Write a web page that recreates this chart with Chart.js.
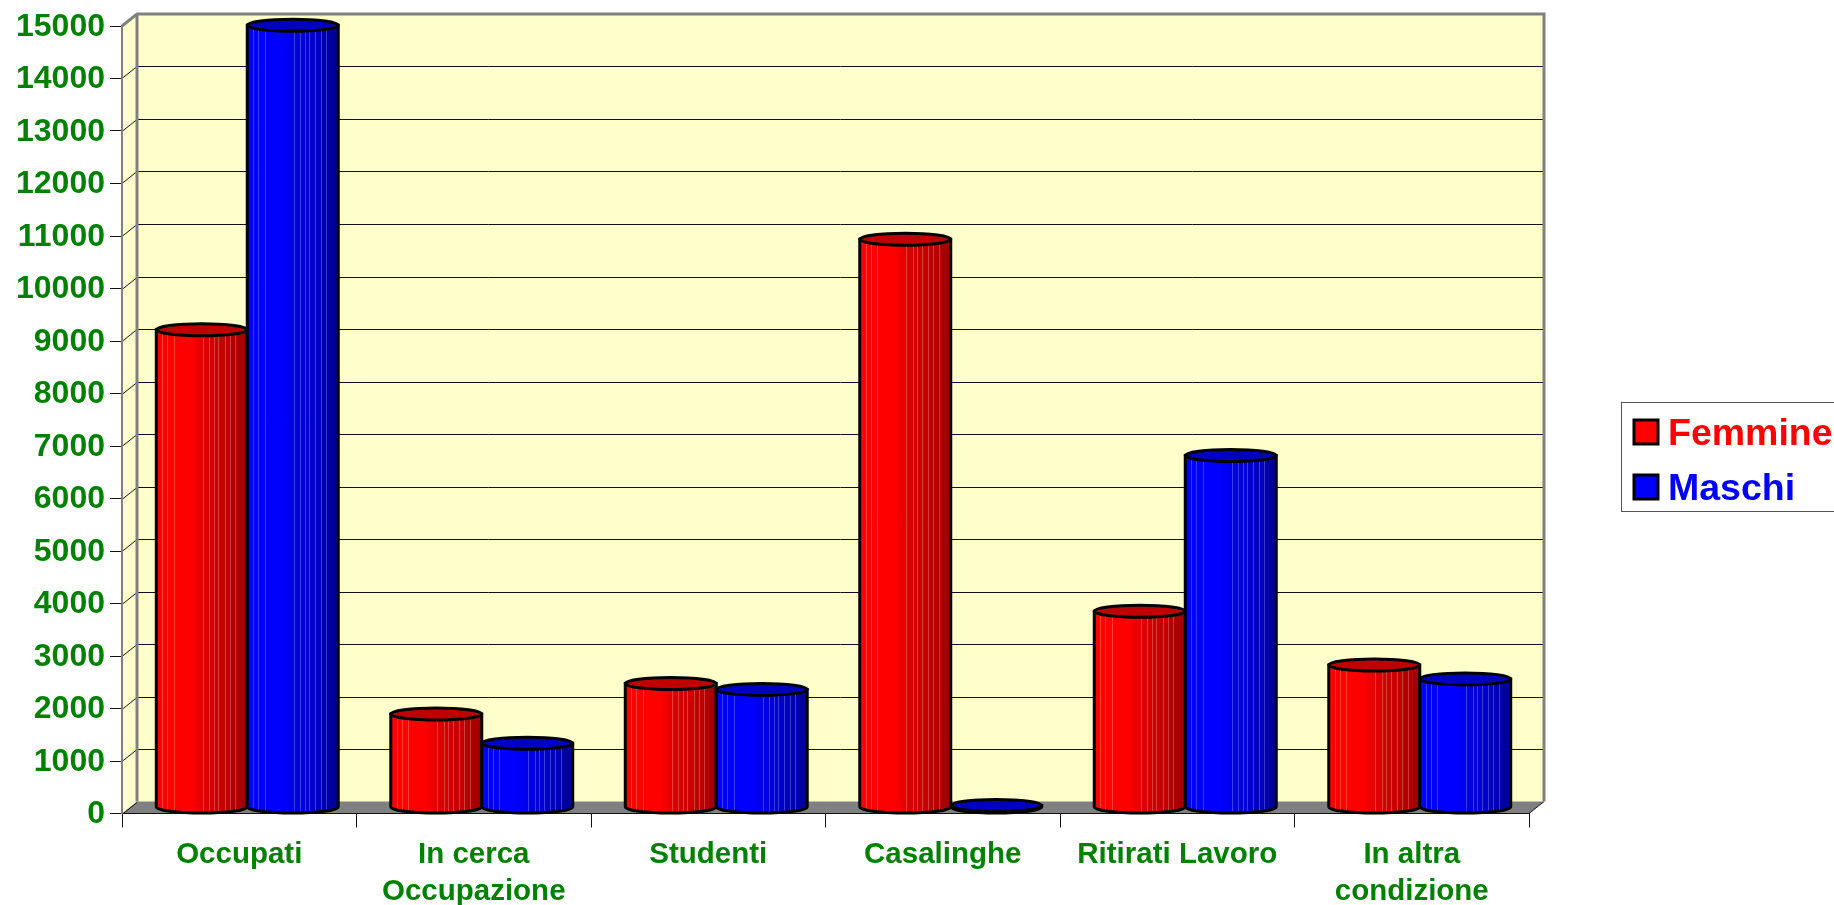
<!DOCTYPE html>
<html>
<head>
<meta charset="utf-8">
<title>Femmine e Maschi per condizione</title>
<script src="https://cdn.jsdelivr.net/npm/chart.js@4"></script>
<style>
  html, body { margin: 0; padding: 0; background: #fff; overflow: hidden; }
  canvas { display: block; }
</style>
</head>
<body>
<canvas id="chart" width="1834" height="905"></canvas>
<script>
const categories = ['Occupati', ['In cerca', 'Occupazione'], 'Studenti', 'Casalinghe', 'Ritirati Lavoro', ['In altra', 'condizione']];
const seriesNames = ['Femmine', 'Maschi'];
const femmine = [9100, 1780, 2360, 10825, 3740, 2716];
const maschi = [14900, 1223, 2250, 40, 6705, 2450];

const FONT = '"Liberation Sans", Arial, sans-serif';
const GREEN = '#008000';
const SERIES_COLOR = ['#ff0000', '#0000ff'];
const CAP_COLOR = ['#c00000', '#0000c0'];
const SHADE_1 = ['#d80000', '#0000e0'];
const SHADE_2 = ['#c40000', '#0000c8'];
const SHADE_3 = ['#9c0000', '#000090'];
const STREAK_COLOR = ['rgba(255,170,170,0.35)', 'rgba(170,170,255,0.35)'];
const STREAKS = [0.065, 0.12, 0.19, 0.51, 0.58, 0.63, 0.68, 0.75, 0.81, 0.87];

// how far the back wall sits from the front plane
const WALL_DX = 15;
const WALL_DY = -12;
// cylinders stand halfway between front and back
const BAR_DX = 8;
const BAR_DY = -6;
const CAP_RY = 6;

const wallPlugin = {
  id: 'wall',
  beforeDraw(chart) {
    const { ctx, chartArea: a, scales } = chart;
    const L = a.left, R = a.right, T = a.top, B = a.bottom;

    ctx.save();
    ctx.fillStyle = '#ffffcc';
    ctx.fillRect(L + WALL_DX, T + WALL_DY, R - L, B - T);
    ctx.beginPath();
    ctx.moveTo(L, T);
    ctx.lineTo(L + WALL_DX, T + WALL_DY);
    ctx.lineTo(L + WALL_DX, B + WALL_DY);
    ctx.lineTo(L, B);
    ctx.closePath();
    ctx.fill();

    // floor
    ctx.fillStyle = '#808080';
    ctx.beginPath();
    ctx.moveTo(L, B);
    ctx.lineTo(L + WALL_DX, B + WALL_DY);
    ctx.lineTo(R + WALL_DX, B + WALL_DY);
    ctx.lineTo(R, B);
    ctx.closePath();
    ctx.fill();

    // grid lines on the back wall and their diagonals on the side wall
    ctx.strokeStyle = '#111';
    ctx.lineWidth = 1;
    scales.y.ticks.forEach(t => {
      const y = Math.round(scales.y.getPixelForValue(t.value)) + 0.5;
      ctx.beginPath();
      ctx.moveTo(L, y);
      ctx.lineTo(L + WALL_DX, y + WALL_DY);
      if (t.value > 0) ctx.lineTo(R + WALL_DX, y + WALL_DY);
      ctx.stroke();
    });
    ctx.beginPath();
    ctx.moveTo(R, B);
    ctx.lineTo(R + WALL_DX, B + WALL_DY);
    ctx.stroke();

    // wall frame
    ctx.strokeStyle = '#808080';
    ctx.lineWidth = 3;
    ctx.beginPath();
    ctx.moveTo(L, T);
    ctx.lineTo(L + WALL_DX, T + WALL_DY);
    ctx.lineTo(R + WALL_DX, T + WALL_DY);
    ctx.lineTo(R + WALL_DX, B + WALL_DY);
    ctx.moveTo(L + WALL_DX, T + WALL_DY);
    ctx.lineTo(L + WALL_DX, B + WALL_DY);
    ctx.stroke();
    ctx.restore();
  }
};

function drawCylinder(ctx, bar, s) {
  const x0 = bar.x - bar.width / 2 + BAR_DX;
  const x1 = bar.x + bar.width / 2 + BAR_DX;
  const cx = (x0 + x1) / 2;
  const rx = bar.width / 2;
  const top = bar.y + BAR_DY;
  const bottom = bar.base + BAR_DY;

  const grad = ctx.createLinearGradient(x0, 0, x1, 0);
  grad.addColorStop(0, SERIES_COLOR[s]);
  grad.addColorStop(0.38, SERIES_COLOR[s]);
  grad.addColorStop(0.55, SHADE_1[s]);
  grad.addColorStop(0.75, SHADE_2[s]);
  grad.addColorStop(1, SHADE_3[s]);

  const body = () => {
    ctx.beginPath();
    ctx.moveTo(x0, top);
    ctx.lineTo(x0, bottom);
    ctx.ellipse(cx, bottom, rx, CAP_RY, 0, Math.PI, 0, true);
    ctx.lineTo(x1, top);
    ctx.closePath();
  };

  ctx.save();
  body();
  ctx.fillStyle = grad;
  ctx.fill();
  ctx.save();
  ctx.clip();
  ctx.strokeStyle = STREAK_COLOR[s];
  ctx.lineWidth = 1;
  STREAKS.forEach(f => {
    const x = Math.round(x0 + f * bar.width) + 0.5;
    ctx.beginPath();
    ctx.moveTo(x, top);
    ctx.lineTo(x, bottom + CAP_RY);
    ctx.stroke();
  });
  ctx.restore();
  body();
  ctx.strokeStyle = '#000';
  ctx.lineWidth = 3;
  ctx.stroke();

  ctx.beginPath();
  ctx.ellipse(cx, top, rx, CAP_RY, 0, 0, Math.PI * 2);
  ctx.fillStyle = CAP_COLOR[s];
  ctx.fill();
  ctx.stroke();
  ctx.restore();
}

const cylinderPlugin = {
  id: 'cylinders',
  // replaces the flat rectangles, the bars still come from the bar controller
  beforeDatasetsDraw(chart) {
    chart.data.datasets.forEach((ds, s) => {
      chart.getDatasetMeta(s).data.forEach(bar => drawCylinder(chart.ctx, bar, s));
    });
    return false;
  }
};

const legendBoxPlugin = {
  id: 'legendBox',
  afterDraw(chart) {
    const ctx = chart.ctx;
    ctx.save();
    ctx.fillStyle = '#fff';
    ctx.strokeStyle = '#555';
    ctx.lineWidth = 1;
    ctx.fillRect(1622, 403, 230, 109);
    ctx.strokeRect(1621.5, 402.5, 230, 109);
    ctx.font = 'bold 37.5px ' + FONT;
    ctx.textBaseline = 'alphabetic';
    seriesNames.forEach((name, i) => {
      const top = 420 + i * 55;
      ctx.fillStyle = SERIES_COLOR[i];
      ctx.fillRect(1634, top, 24, 24);
      ctx.strokeStyle = '#000';
      ctx.lineWidth = 3;
      ctx.strokeRect(1634, top, 24, 24);
      ctx.fillText(name, 1668, 445 + i * 55);
    });
    ctx.restore();
  }
};

new Chart(document.getElementById('chart').getContext('2d'), {
  type: 'bar',
  data: {
    labels: categories,
    datasets: [
      { label: seriesNames[0], data: femmine, backgroundColor: SERIES_COLOR[0] },
      { label: seriesNames[1], data: maschi, backgroundColor: SERIES_COLOR[1] },
    ]
  },
  plugins: [wallPlugin, cylinderPlugin, legendBoxPlugin],
  options: {
    responsive: false,
    animation: false,
    categoryPercentage: 0.776,
    barPercentage: 1,
    layout: { padding: { top: 26, right: 305, bottom: 0, left: 0 } },
    plugins: {
      legend: { display: false },
      tooltip: { enabled: false },
    },
    scales: {
      x: {
        offset: true,
        afterFit(scale) { scale.height = 91.5; },
        border: { color: '#111', width: 1 },
        grid: { drawOnChartArea: false, drawTicks: true, tickLength: 14, color: '#111', offset: true },
        ticks: {
          color: GREEN,
          font: { family: FONT, size: 29.5, weight: 'bold', lineHeight: 1.25 },
          padding: 9,
          autoSkip: false,
          maxRotation: 0,
        },
      },
      y: {
        min: 0,
        max: 15000,
        afterFit(scale) { scale.width = 122; },
        border: { color: '#808080', width: 2 },
        grid: { drawOnChartArea: false, drawTicks: true, tickLength: 12, color: '#111' },
        ticks: {
          stepSize: 1000,
          color: GREEN,
          font: { family: FONT, size: 32, weight: 'bold' },
          padding: 5,
          labelOffset: 1,
          callback: value => value,
        },
      },
    }
  }
});
</script>
</body>
</html>
